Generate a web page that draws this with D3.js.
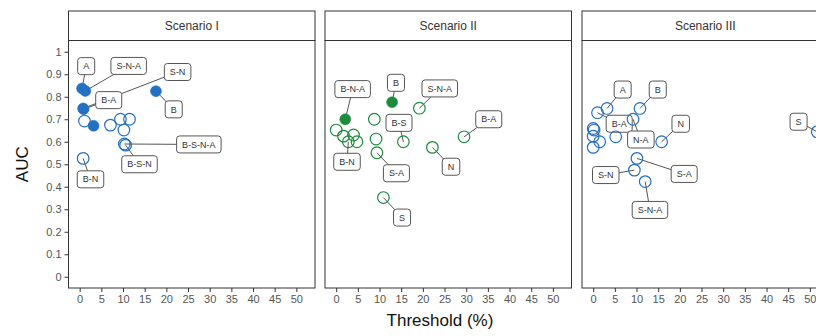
<!DOCTYPE html>
<html>
<head>
<meta charset="utf-8">
<script src="https://cdn.jsdelivr.net/npm/d3@7"></script>
<style>
  body { margin: 0; background: #fff; }
  svg { display: block; font-family: "Liberation Sans", Arial, sans-serif; }
</style>
</head>
<body>
<div id="chart"></div>
<script>
// facet titles and axis ticks
const scenarios = ['Scenario I', 'Scenario II', 'Scenario III'];
const xTicks = [0, 5, 10, 15, 20, 25, 30, 35, 40, 45, 50];
const yTicks = [0, 0.1, 0.2, 0.3, 0.4, 0.5, 0.6, 0.7, 0.8, 0.9, 1];

// Scenario I
const s1Names = ['A', 'S-N-A', 'S-N', 'B-A', 'B', '', '', '', '', '', '', 'B-S-N-A', 'B-S-N', 'B-N'];
const s1Threshold = [0.55, 1.3, 0.8, 0.9, 17.6, 3.2, 1.1, 7.1, 9.4, 11.5, 10.2, 10.3, 10.6, 0.8];
const s1Auc = [0.837, 0.826, 0.748, 0.745, 0.825, 0.671, 0.692, 0.674, 0.70, 0.70, 0.652, 0.59, 0.585, 0.526];
const s1Filled = [1, 1, 1, 1, 1, 1, 0, 0, 0, 0, 0, 0, 0, 0];
// label anchors (data units), like annotate()
const s1LabelThreshold = [1.5, 11.3, 22.6, 6.7, 21.7, null, null, null, null, null, null, 27.5, 13.8, 2.5];
const s1LabelAuc = [0.936, 0.937, 0.91, 0.785, 0.744, null, null, null, null, null, null, 0.588, 0.50, 0.433];

// Scenario II
const s2Names = ['B-N-A', 'B', 'S-N-A', '', '', '', '', 'B-N', '', '', 'B-S', 'S-A', 'N', 'B-A', 'S'];
const s2Threshold = [2.1, 12.9, 19.2, 8.8, 0, 1.7, 4.0, 2.8, 4.8, 9.2, 15.5, 9.4, 22.2, 29.5, 10.9];
const s2Auc = [0.70, 0.776, 0.749, 0.70, 0.652, 0.625, 0.63, 0.60, 0.60, 0.612, 0.60, 0.551, 0.575, 0.622, 0.352];
const s2Filled = [1, 1, 0, 0, 0, 0, 0, 0, 0, 0, 0, 0, 0, 0, 0];
const s2LabelThreshold = [3.8, 13.8, 23.9, null, null, null, null, 2.5, null, null, 14.5, 13.9, 26.5, 35.2, 15.2];
const s2LabelAuc = [0.834, 0.862, 0.837, null, null, null, null, 0.511, null, null, 0.684, 0.46, 0.489, 0.70, 0.263];

// Scenario III
const s3Names = ['A', 'B-A', 'B', 'N-A', '', '', '', '', '', '', 'N', 'S-A', 'S-N', 'S-N-A', 'S'];
const s3Threshold = [3.2, 1.0, 10.8, 9.2, 0, 0.2, 0, 1.5, 0, 5.2, 15.8, 10.1, 9.5, 12.0, 51.7];
const s3Auc = [0.748, 0.729, 0.748, 0.70, 0.659, 0.652, 0.625, 0.60, 0.575, 0.622, 0.60, 0.526, 0.474, 0.423, 0.644];
const s3Filled = [0, 0, 0, 0, 0, 0, 0, 0, 0, 0, 0, 0, 0, 0, 0];
const s3LabelThreshold = [6.8, 6.0, 14.9, 11.0, null, null, null, null, null, null, 20.2, 21.0, 2.9, 13.1, 47.4];
const s3LabelAuc = [0.832, 0.68, 0.832, 0.61, null, null, null, null, null, null, 0.68, 0.457, 0.452, 0.297, 0.689];

const panelColors = ['#2470c2', '#1d8a3c', '#2470c2'];

const width = 816;
const height = 336;
const panelLefts = [68.5, 325, 582];
const panelWidth = 246.5;
const plotTop = 40.5;
const plotBottom = 288;
const stripTop = 11;

function rows(names, xs, ys, filled, lx, ly) {
  return names.map((n, i) => ({
    name: n, x: xs[i], y: ys[i], filled: filled[i] === 1, lx: lx[i], ly: ly[i],
  }));
}

const panels = [
  rows(s1Names, s1Threshold, s1Auc, s1Filled, s1LabelThreshold, s1LabelAuc),
  rows(s2Names, s2Threshold, s2Auc, s2Filled, s2LabelThreshold, s2LabelAuc),
  rows(s3Names, s3Threshold, s3Auc, s3Filled, s3LabelThreshold, s3LabelAuc),
];

const svg = d3.select('#chart')
  .append('svg')
  .attr('width', width)
  .attr('height', height);

svg.append('rect').attr('width', width).attr('height', height).attr('fill', '#fff');

const y = d3.scaleLinear()
  .domain([-0.05, 1.05])
  .range([plotBottom, plotTop]);

const radius = 5.5;

panels.forEach((data, p) => {
  const left = panelLefts[p];
  const color = panelColors[p];
  const x = d3.scaleLinear()
    .domain([-2.58, 54.3])
    .range([left, left + panelWidth]);

  const g = svg.append('g');

  // strip
  g.append('rect')
    .attr('x', left).attr('y', stripTop)
    .attr('width', panelWidth).attr('height', plotTop - stripTop)
    .attr('fill', '#fff').attr('stroke', '#333').attr('stroke-width', 1);
  g.append('text')
    .attr('x', left + panelWidth / 2)
    .attr('y', (stripTop + plotTop) / 2)
    .attr('dy', '0.35em')
    .attr('text-anchor', 'middle')
    .attr('font-size', 12)
    .attr('fill', '#333')
    .text(scenarios[p]);

  // x axis
  const xAxis = g.append('g')
    .attr('transform', `translate(0,${plotBottom})`)
    .call(d3.axisBottom(x).tickValues(xTicks).tickSize(4).tickPadding(3));
  xAxis.select('.domain').remove();
  xAxis.selectAll('line').attr('stroke', '#333');
  xAxis.selectAll('text').attr('fill', '#555').attr('font-size', 11)
    .attr('font-family', '"Liberation Sans", Arial, sans-serif');

  if (p === 0) {
    const yAxis = g.append('g')
      .attr('transform', `translate(${left},0)`)
      .call(d3.axisLeft(y).tickValues(yTicks).tickSize(4).tickPadding(3)
        .tickFormat(d3.format('~g')));
    yAxis.select('.domain').remove();
    yAxis.selectAll('line').attr('stroke', '#333');
    yAxis.selectAll('text').attr('fill', '#555').attr('font-size', 11)
      .attr('font-family', '"Liberation Sans", Arial, sans-serif');
  }

  const clipId = `clip${p}`;
  svg.append('clipPath').attr('id', clipId)
    .append('rect')
    .attr('x', left).attr('y', plotTop)
    .attr('width', panelWidth).attr('height', plotBottom - plotTop);

  const inner = g.append('g').attr('clip-path', `url(#${clipId})`);

  const labelled = data.filter(d => d.name && d.lx !== null);

  // segments from points to labels
  inner.selectAll('line.seg')
    .data(labelled)
    .enter()
    .append('line')
    .attr('class', 'seg')
    .attr('x1', d => x(d.x))
    .attr('y1', d => y(d.y))
    .attr('x2', d => x(d.lx))
    .attr('y2', d => y(d.ly))
    .attr('stroke', '#555')
    .attr('stroke-width', 1);

  // labels
  const lab = inner.selectAll('g.lab')
    .data(labelled)
    .enter()
    .append('g')
    .attr('class', 'lab')
    .attr('transform', d => `translate(${x(d.lx)},${y(d.ly)})`);

  lab.append('text')
    .attr('text-anchor', 'middle')
    .attr('dy', '0.35em')
    .attr('font-size', 9)
    .attr('fill', '#333')
    .text(d => d.name)
    .each(function (d) { d.tw = this.getComputedTextLength(); });

  lab.insert('rect', 'text')
    .attr('x', d => -Math.max(d.tw + 11, 17) / 2)
    .attr('y', -8.5)
    .attr('width', d => Math.max(d.tw + 11, 17))
    .attr('height', 17)
    .attr('rx', 3)
    .attr('fill', '#fff')
    .attr('stroke', '#555')
    .attr('stroke-width', 1);

  // points
  inner.selectAll('circle')
    .data(data)
    .enter()
    .append('circle')
    .attr('cx', d => x(d.x))
    .attr('cy', d => y(d.y))
    .attr('r', d => (d.filled ? radius : radius + 0.3))
    .attr('fill', d => (d.filled ? color : 'none'))
    .attr('stroke', color)
    .attr('stroke-width', d => (d.filled ? 0.5 : 1.2));

  // panel border
  g.append('rect')
    .attr('x', left).attr('y', plotTop)
    .attr('width', panelWidth).attr('height', plotBottom - plotTop)
    .attr('fill', 'none').attr('stroke', '#333').attr('stroke-width', 1);
});

// axis titles
svg.append('text')
  .attr('x', 440)
  .attr('y', 326)
  .attr('text-anchor', 'middle')
  .attr('font-size', 17)
  .attr('fill', '#111')
  .text('Threshold (%)');

svg.append('text')
  .attr('transform', `translate(28,${(plotTop + plotBottom) / 2}) rotate(-90)`)
  .attr('text-anchor', 'middle')
  .attr('font-size', 17)
  .attr('fill', '#111')
  .text('AUC');
</script>
</body>
</html>
